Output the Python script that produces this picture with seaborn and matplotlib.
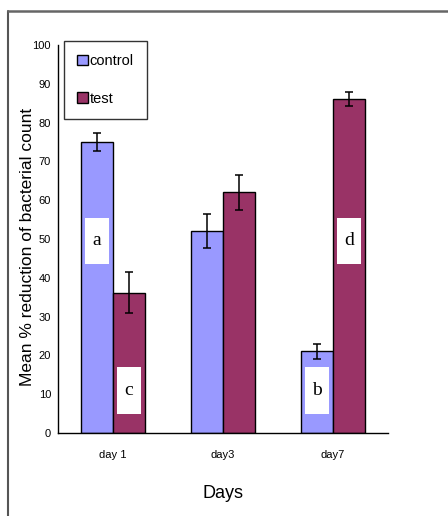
import matplotlib
matplotlib.use("Agg")
import matplotlib.pyplot as plt
from matplotlib.patches import Rectangle
from matplotlib.lines import Line2D
import numpy as np
import pandas as pd
import seaborn as sns

# data
days = ["day 1", "day3", "day7"]
groups = ["control", "test"]
control_mean = [75, 52, 21]
test_mean = [36.2, 62, 86]
control_err = [2.2, 4.4, 2.0]
test_err = [5.2, 4.6, 1.8]
# significance letters: (letter, day index, group, y centre)
letters = [("a", 0, "control", 49.5), ("c", 0, "test", 11),
           ("b", 2, "control", 11), ("d", 2, "test", 49.5)]

df = pd.DataFrame({
    "Days": days * 2,
    "group": ["control"] * 3 + ["test"] * 3,
    "value": control_mean + test_mean,
    "err": control_err + test_err,
})

sns.set_style("white")
plt.rcParams["font.family"] = ["Liberation Sans", "DejaVu Sans"]
plt.rcParams["text.color"] = "black"
plt.rcParams["axes.labelcolor"] = "black"
plt.rcParams["xtick.color"] = "black"
plt.rcParams["ytick.color"] = "black"

fig = plt.figure(figsize=(4.48, 5.16), dpi=100)
ax = fig.add_axes([0.1295, 0.1609, 0.7366, 0.7519])

colours = {"control": "#9999ff", "test": "#993366"}
sns.barplot(data=df, x="Days", y="value", hue="group", order=days,
            hue_order=groups, palette=colours, edgecolor="black",
            linewidth=1, width=0.58, saturation=1, errorbar=None, ax=ax)

# error bars on the bar centres
centres = {}
for g, cont in zip(groups, ax.containers):
    sub = df[df["group"] == g].set_index("Days").loc[days]
    xs = [p.get_x() + p.get_width() / 2 for p in cont.patches]
    centres[g] = xs
    ax.errorbar(xs, sub["value"], yerr=sub["err"], fmt="none",
                ecolor="black", elinewidth=1.1, capsize=3, capthick=1.1,
                zorder=5)

# white boxes with letters
for let, i, g, yc in letters:
    xc = centres[g][i]
    ax.add_patch(Rectangle((xc - 0.11, yc - 6), 0.22, 12,
                           facecolor="white", edgecolor="none", zorder=6))
    ax.text(xc, yc, let, ha="center", va="center", fontsize=14,
            family=["Liberation Serif"], zorder=7)

ax.set_xlim(-0.5, 2.5)
ax.set_ylim(0, 100)
ax.set_yticks(np.arange(0, 101, 10))
ax.set_xticks([0, 1, 2])
ax.set_xticklabels(days, fontsize=8)
ax.set_xticks([0.5, 1.5, 2.5], minor=True)
ax.tick_params(axis="x", which="major", length=0, pad=12)
ax.tick_params(axis="x", which="minor", length=4, width=1, direction="out", color="black")
ax.tick_params(axis="y", length=3, width=1, direction="out", labelsize=8, color="black", pad=2)

for s in ["top", "right"]:
    ax.spines[s].set_visible(False)
for s in ["left", "bottom"]:
    ax.spines[s].set_color("black")
    ax.spines[s].set_linewidth(1)

ax.set_xlabel("Days", fontsize=13, labelpad=18)
ax.set_ylabel("Mean % reduction of bacterial count", fontsize=12.5)
ax.yaxis.set_label_coords(-0.07, 0.48)

leg = ax.legend(loc="upper left", bbox_to_anchor=(0.018, 1.01), frameon=True,
                fontsize=10.5, handlelength=0.75, handleheight=0.75,
                handletextpad=0.1, labelspacing=1.6, borderpad=0.9,
                fancybox=False, borderaxespad=0)
leg.get_frame().set_edgecolor("black")
leg.get_frame().set_linewidth(1)
for h in leg.legend_handles:
    h.set_edgecolor("black")

# outer frame of the picture
fig.add_artist(Line2D([8 / 448, 8 / 448], [0, 1 - 11 / 516], color="#555555", lw=1.5))
fig.add_artist(Line2D([8 / 448, 1], [1 - 11 / 516, 1 - 11 / 516], color="#666666", lw=1.8))

fig.savefig("out.png", dpi=100)
